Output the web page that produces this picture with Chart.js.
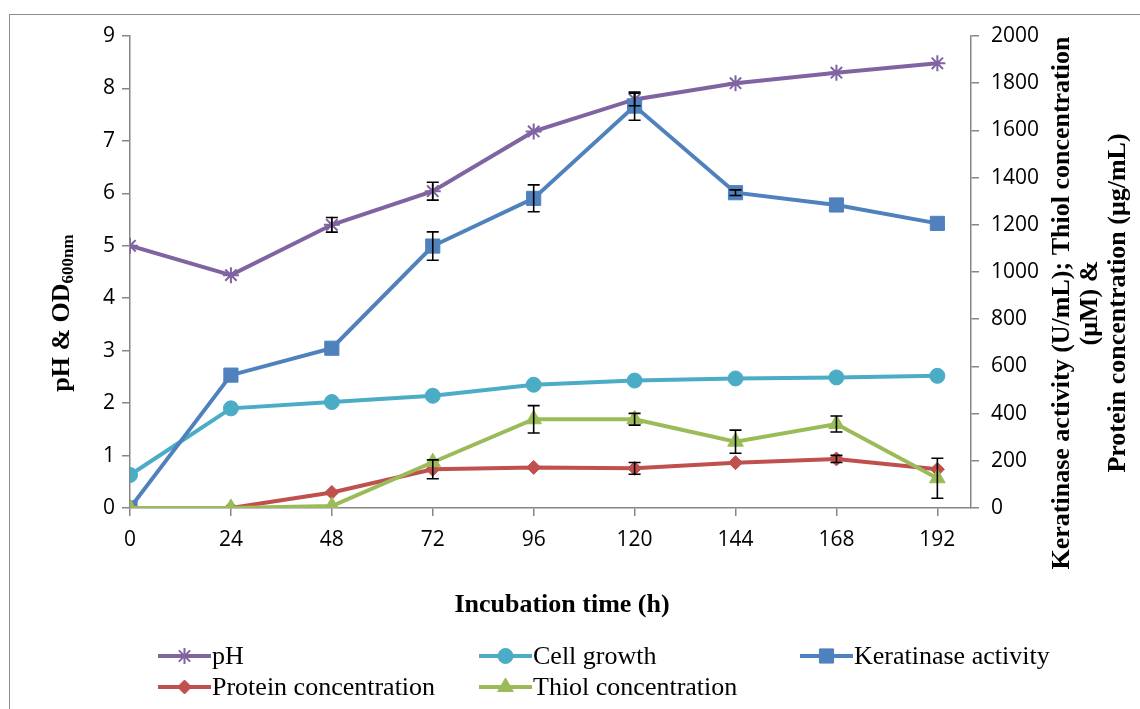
<!DOCTYPE html>
<html>
<head>
<meta charset="utf-8">
<script src="https://cdn.jsdelivr.net/npm/chart.js@4.4.0/dist/chart.umd.min.js"></script>
<style>
  body { margin: 0; background: #fff; }
  #chart { display: block; }
</style>
</head>
<body>
<canvas id="chart" width="1140" height="709"></canvas>
<script>
// incubation time (h)
var hours = [0, 24, 48, 72, 96, 120, 144, 168, 192];

// left axis (pH & OD600nm)
var ph = [5.00, 4.44, 5.40, 6.04, 7.18, 7.79, 8.10, 8.30, 8.48];
var cellGrowth = [0.63, 1.90, 2.02, 2.14, 2.35, 2.43, 2.47, 2.49, 2.52];

// right axis
var keratinase = [0, 563, 677, 1110, 1312, 1703, 1336, 1284, 1206];
var protein = [0, 0, 66, 164, 172, 168, 192, 208, 164];
var thiol = [0, 0, 8, 194, 376, 376, 281, 356, 126];

// error bars (same units as the series)
var phErr = [0, 0, 0.14, 0.17, 0, 0.12, 0, 0, 0];
var keratinaseErr = [0, 0, 0, 60, 57, 60, 12, 0, 0];
var proteinErr = [0, 0, 0, 40, 0, 25, 0, 15, 0];
var thiolErr = [0, 0, 0, 0, 58, 25, 49, 34, 85];

var leftTicks = [0, 1, 2, 3, 4, 5, 6, 7, 8, 9];
var rightTicks = [0, 200, 400, 600, 800, 1000, 1200, 1400, 1600, 1800, 2000];

var axisGrey = '#868686';
var tickFont = { family: "'Open Sans', sans-serif", size: 21 };
var serif = "'Liberation Serif', 'Times New Roman', serif";

function pts(vals){
	return hours.map(function(h, i){ return { x: h, y: vals[i] }; });
}

function series(label, vals, errs, color, style, radius, axis, order){
	return {
		label: label,
		data: pts(vals),
		errors: errs,
		yAxisID: axis,
		order: order,
		borderColor: color,
		backgroundColor: color,
		borderWidth: 4,
		pointStyle: style,
		pointRadius: radius,
		pointHoverRadius: radius,
		pointBorderWidth: style === 'star' ? 2 : 1,
		pointBorderColor: color,
		pointBackgroundColor: color,
		tension: 0
	};
}

var errorBars = {
	id: 'errorBars',
	afterDatasetsDraw: function(chart){
		var ctx = chart.ctx;
		ctx.save();
		ctx.strokeStyle = '#000';
		ctx.lineWidth = 1.6;
		chart.data.datasets.forEach(function(ds){
			var ys = chart.scales[ds.yAxisID];
			var xs = chart.scales.x;
			ds.data.forEach(function(p, i){
				var e = ds.errors[i];
				if (!e) return;
				var x = xs.getPixelForValue(p.x);
				var top = ys.getPixelForValue(p.y + e);
				var bot = ys.getPixelForValue(p.y - e);
				ctx.beginPath();
				ctx.moveTo(x, top); ctx.lineTo(x, bot);
				ctx.moveTo(x - 6, top); ctx.lineTo(x + 6, top);
				ctx.moveTo(x - 6, bot); ctx.lineTo(x + 6, bot);
				ctx.stroke();
			});
		});
		ctx.restore();
	}
};

var decorations = {
	id: 'decorations',
	beforeDraw: function(chart){
		var ctx = chart.ctx;
		ctx.save();
		ctx.fillStyle = '#fff';
		ctx.fillRect(0, 0, chart.width, chart.height);
		ctx.strokeStyle = '#8c8c8c';
		ctx.lineWidth = 1;
		ctx.strokeRect(9.5, 14.5, 1140, 720);
		ctx.restore();
	},
	afterDraw: function(chart){
		var ctx = chart.ctx;
		ctx.save();
		ctx.fillStyle = '#000';

		// left title with subscript
		var main = 'pH & OD', sub = '600nm';
		ctx.translate(62, 313);
		ctx.rotate(-Math.PI / 2);
		ctx.font = 'bold 26px ' + serif;
		var w1 = ctx.measureText(main).width;
		ctx.font = 'bold 17px ' + serif;
		var w2 = ctx.measureText(sub).width;
		var start = -(w1 + w2) / 2;
		ctx.textBaseline = 'middle';
		ctx.textAlign = 'left';
		ctx.font = 'bold 26px ' + serif;
		ctx.fillText(main, start, 0);
		ctx.font = 'bold 17px ' + serif;
		ctx.fillText(sub, start + w1, 7);
		ctx.setTransform(1, 0, 0, 1, 0, 0);

		// right title, three lines
		var lines = ['Keratinase activity (U/mL); Thiol concentration', '(\u03bcM) &', 'Protein concentration (\u03bcg/mL)'];
		var lx = [1062, 1090, 1118];
		ctx.font = 'bold 26px ' + serif;
		ctx.textAlign = 'center';
		lines.forEach(function(t, i){
			ctx.save();
			ctx.translate(lx[i], 303);
			ctx.rotate(-Math.PI / 2);
			ctx.fillText(t, 0, 0);
			ctx.restore();
		});

		// x title
		ctx.font = 'bold 26px ' + serif;
		ctx.textAlign = 'center';
		ctx.fillText('Incubation time (h)', 562, 605);

		// legend
		var pos = [[158, 656], [479, 656], [800, 656], [158, 687], [479, 687]];
		ctx.font = '26px ' + serif;
		ctx.textAlign = 'left';
		chart.data.datasets.forEach(function(ds, k){
			var x = pos[k][0], y = pos[k][1];
			ctx.strokeStyle = ds.borderColor;
			ctx.lineWidth = 4;
			ctx.beginPath();
			ctx.moveTo(x, y); ctx.lineTo(x + 53, y);
			ctx.stroke();
			ctx.fillStyle = ds.backgroundColor;
			ctx.lineWidth = ds.pointBorderWidth;
			Chart.helpers.drawPoint(ctx, { pointStyle: ds.pointStyle, radius: ds.pointRadius, rotation: 0, borderWidth: ds.pointBorderWidth }, x + 26.5, y);
			ctx.fillStyle = '#000';
			ctx.fillText(ds.label, x + 54, y + 1);
		});
		ctx.restore();
	}
};

function plain(v){ return String(v); }

new Chart(document.getElementById('chart'), {
	type: 'line',
	data: {
		datasets: [
			series('pH', ph, phErr, '#8064A2', 'star', 8, 'y', 5),
			series('Cell growth', cellGrowth, [], '#4BACC6', 'circle', 7.5, 'y', 4),
			series('Keratinase activity', keratinase, keratinaseErr, '#4F81BD', 'rect', 10, 'y1', 3),
			series('Protein concentration', protein, proteinErr, '#C0504D', 'rectRot', 7, 'y1', 2),
			series('Thiol concentration', thiol, thiolErr, '#9BBB59', 'triangle', 9, 'y1', 1)
		]
	},
	options: {
		responsive: false,
		animation: false,
		layout: { padding: { top: 36, left: 0, right: 0, bottom: 0 } },
		plugins: { legend: { display: false }, tooltip: { enabled: false } },
		scales: {
			x: {
				type: 'linear',
				min: 0,
				max: 200,
				afterBuildTicks: function(s){ s.ticks = hours.map(function(v){ return { value: v }; }); },
				afterFit: function(s){ s.height = 201; },
				ticks: { font: tickFont, color: '#000', padding: 11, maxRotation: 0, callback: plain },
				grid: { drawOnChartArea: false, tickLength: 8, color: axisGrey, lineWidth: 1.5 },
				border: { color: axisGrey, width: 1.5 }
			},
			y: {
				position: 'left',
				min: 0,
				max: 9,
				afterBuildTicks: function(s){ s.ticks = leftTicks.map(function(v){ return { value: v }; }); },
				afterFit: function(s){ s.width = 130; },
				ticks: { font: tickFont, color: '#000', padding: 7, callback: plain },
				grid: { drawOnChartArea: false, tickLength: 8, color: axisGrey, lineWidth: 1.5 },
				border: { color: axisGrey, width: 1.5 }
			},
			y1: {
				position: 'right',
				min: 0,
				max: 2000,
				afterBuildTicks: function(s){ s.ticks = rightTicks.map(function(v){ return { value: v }; }); },
				afterFit: function(s){ s.width = 169; },
				ticks: { font: tickFont, color: '#000', padding: 12, callback: plain },
				grid: { drawOnChartArea: false, tickLength: 8, color: axisGrey, lineWidth: 1.5 },
				border: { color: axisGrey, width: 1.5 }
			}
		}
	},
	plugins: [decorations, errorBars]
});
</script>
</body>
</html>
